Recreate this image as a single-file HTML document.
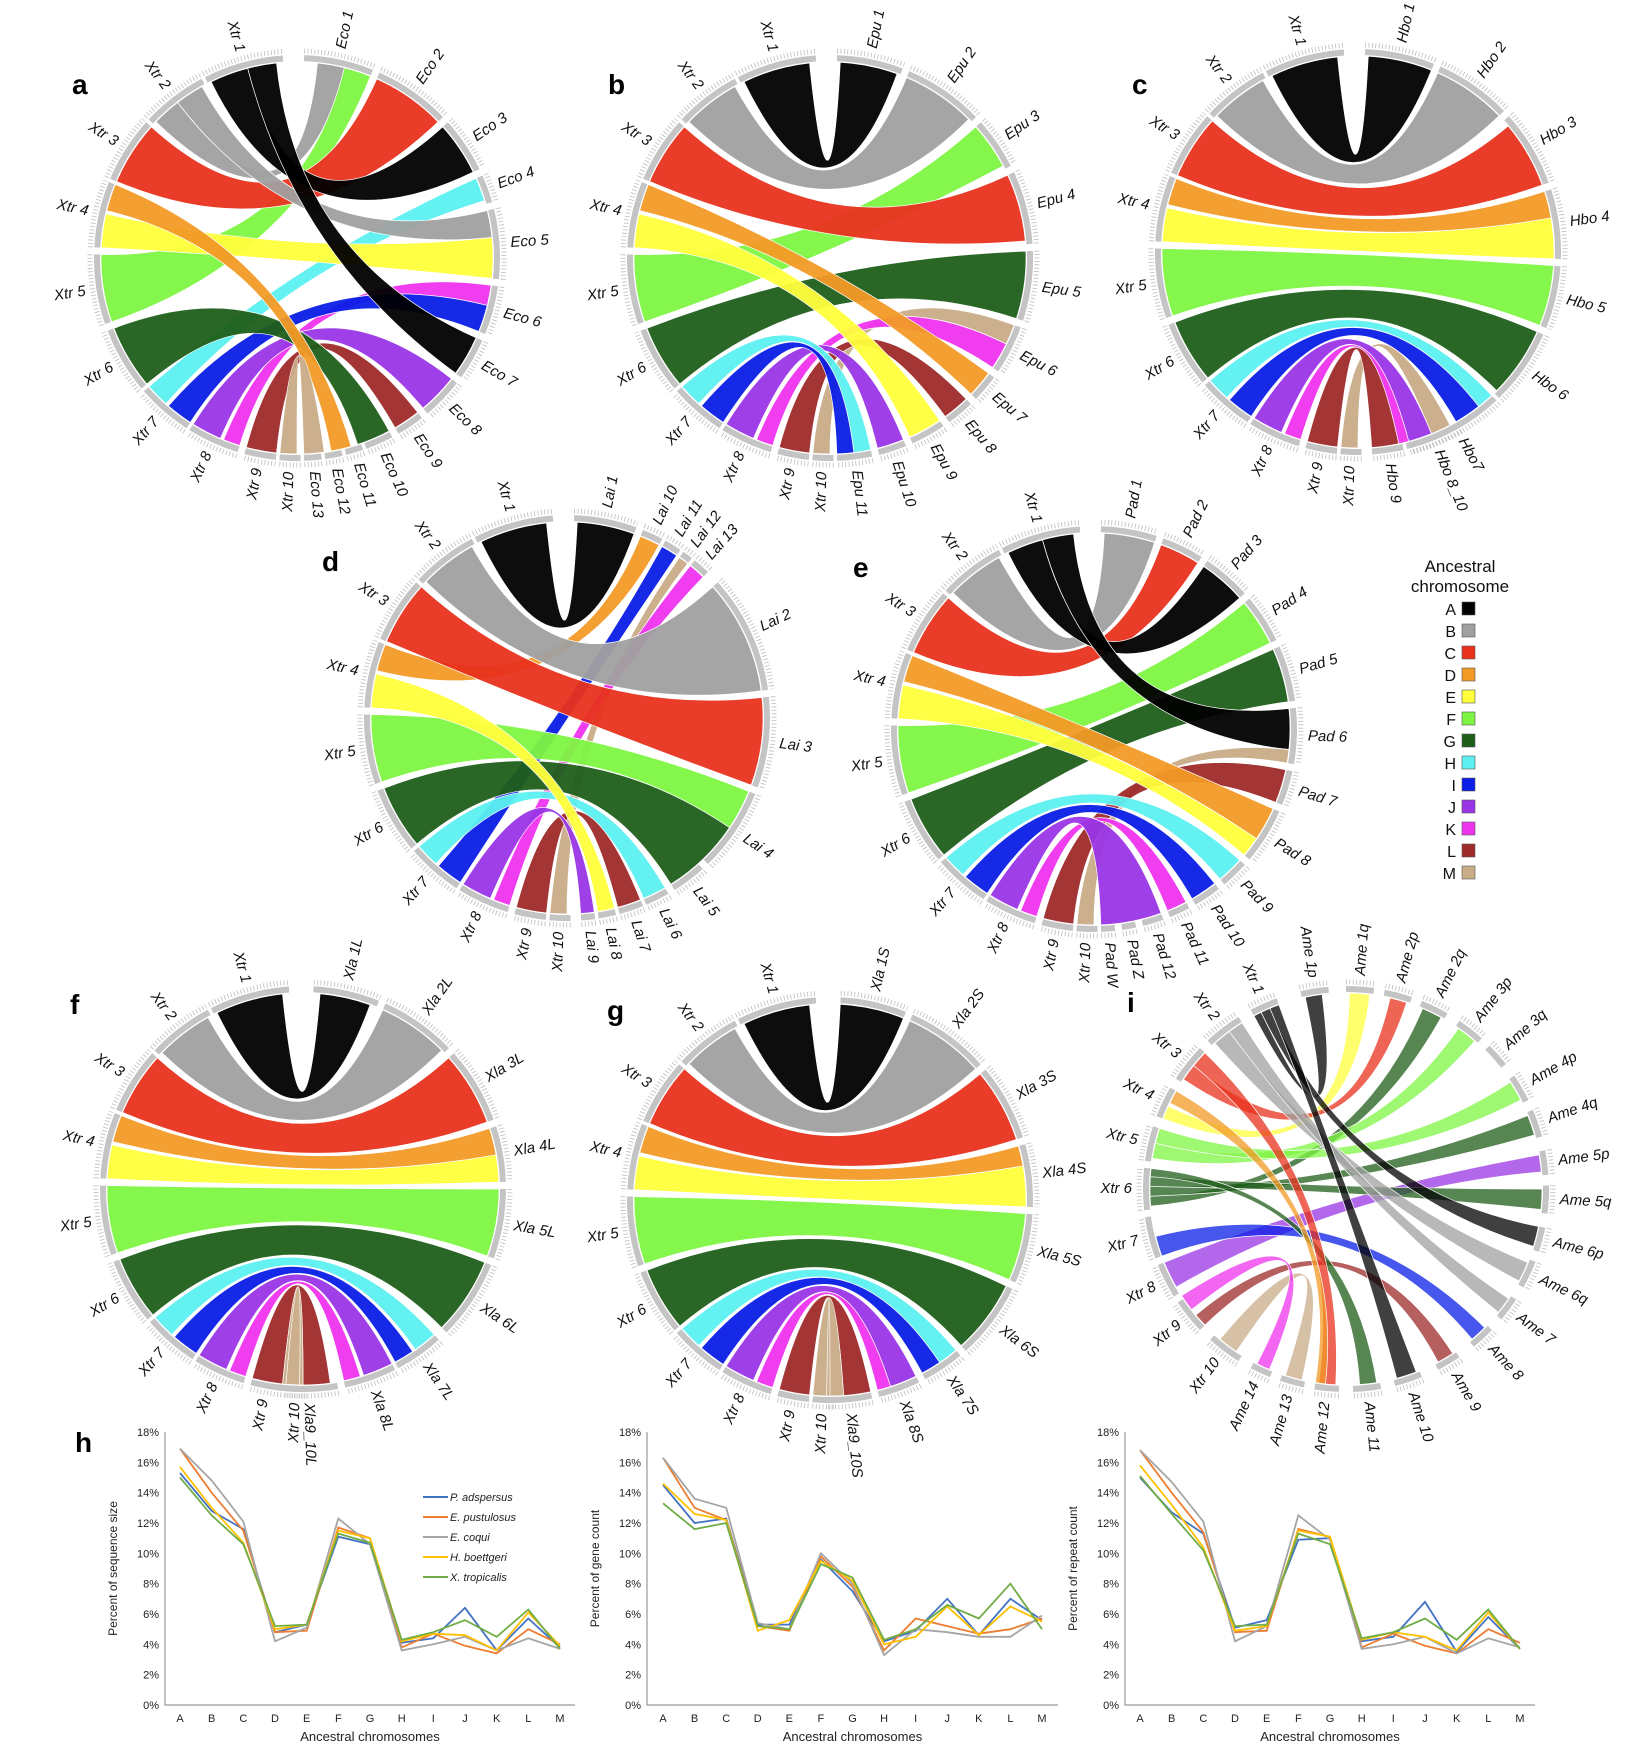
<!DOCTYPE html>
<html><head><meta charset="utf-8">
<style>
html,body{margin:0;padding:0;background:#fff;}
svg{display:block;font-family:"Liberation Sans",sans-serif;}
.lbl{font-size:15px;font-style:italic;fill:#111;}
.plet{font-size:28px;font-weight:bold;fill:#000;}
.tick{font-size:11px;fill:#222;}
</style></head>
<body>
<svg id="fig" width="1650" height="1752" viewBox="0 0 1650 1752" xmlns="http://www.w3.org/2000/svg">
<g id="circles"></g>
<g id="legend"></g>
<g id="charts"></g>
<text class="plet" x="72" y="94">a</text>
<text class="plet" x="608" y="94">b</text>
<text class="plet" x="1132" y="94">c</text>
<text class="plet" x="322" y="571">d</text>
<text class="plet" x="853" y="577">e</text>
<text class="plet" x="70" y="1014">f</text>
<text class="plet" x="607" y="1020">g</text>
<text class="plet" x="1127" y="1012">i</text>
<text class="plet" x="75" y="1452">h</text>
</svg>
<script>
const NS='http://www.w3.org/2000/svg';
const COL={A:'#000000',B:'#a0a0a0',C:'#e8321e',D:'#f29a26',E:'#ffff3c',F:'#7ef542',G:'#1f5e1a',H:'#5cf0f0',I:'#0a1ee6',J:'#9a35e6',K:'#ee33ee',L:'#9e2a2a',M:'#c9ac88'};
const legendLetters=['A','B','C','D','E','F','G','H','I','J','K','L','M'];

const xtrLabels=[['Xtr 1',333,356],['Xtr 2',313,332],['Xtr 3',293,312],['Xtr 4',273,292],['Xtr 5',251,271],['Xtr 6',230,249],['Xtr 7',213,229],['Xtr 8',197,212],['Xtr 9',186,195],['Xtr 10',179,185]];
const xtrSrc={A:[334,354],B:[314,331],C:[293,312],D:[284,292],E:[273,283],F:[251,271],G:[230,249],H:[222,229],I:[213,221],J:[203,212],K:[197,202],L:[186,195],M:[180,185]};

const labelsA=[['Eco 1',2,22],['Eco 2',24,46],['Eco 3',48,64],['Eco 4',66,74],['Eco 5',76,96],['Eco 6',98,112],['Eco 7',114,126],['Eco 8',128,140],['Eco 9',142,150],['Eco 10',152,160],['Eco 11',161,166],['Eco 12',167,172],['Eco 13',173,178]];
const targetsA=[['B',6,14],['F',14,22],['C',24,46],['A',48,64],['H',66,73],['B',76,84],['E',84,96],['K',98,104],['I',104,112],['A',114,126],['J',128,140],['L',142,150],['G',152,162],['D',164,170],['M',172,178]];
const labelsB=[['Epu 1',2,21],['Epu 2',23,46],['Epu 3',48,63],['Epu 4',65,86],['Epu 5',88,108],['Epu 6',110,124],['Epu 7',126,134],['Epu 8',136,144],['Epu 9',146,156],['Epu 10',158,166],['Epu 11',168,178]];
const targetsB=[['A',3,20],['B',23,45],['F',48,62],['C',65,85],['G',88,108],['M',110,116],['K',116,124],['D',126,134],['L',136,144],['E',146,156],['J',158,166],['H',168,173],['I',173,178]];
const labelsC=[['Hbo 1',2,22],['Hbo 2',24,46],['Hbo 3',48,70],['Hbo 4',72,92],['Hbo 5',94,112],['Hbo 6',114,136],['Hbo7',137,165],['Hbo 9',167,176],['Hbo 8_10',150,166]];
const targetsC=[['A',3,22],['B',24,46],['C',50,70],['D',72,80],['E',80,92],['F',94,112],['G',114,135],['H',137,142],['I',142,150],['M',152,158],['J',158,165],['K',165,168],['L',168,176]];
const labelsD=[['Lai 1',2,20],['Lai 10',22,28],['Lai 11',29,34],['Lai 12',35,38],['Lai 13',39,44],['Lai 2',48,82],['Lai 3',84,110],['Lai 4',112,136],['Lai 5',138,148],['Lai 6',150,157],['Lai 7',158,165],['Lai 8',166,171],['Lai 9',172,176]];
const targetsD=[['A',3,20],['D',22,28],['I',29,34],['M',35,38],['K',39,44],['B',48,82],['C',84,110],['F',112,124],['G',124,148],['H',150,157],['L',158,165],['E',166,171],['J',172,176]];
const labelsE=[['Pad 1',2,18],['Pad 2',20,32],['Pad 3',34,48],['Pad 4',50,64],['Pad 5',66,82],['Pad 6',84,100],['Pad 7',102,112],['Pad 8',114,130],['Pad 9',132,140],['Pad 10',142,150],['Pad 11',152,158],['Pad 12',160,166],['Pad Z',168,172],['Pad W',174,178]];
const targetsE=[['B',3,18],['C',20,32],['A',34,48],['F',50,64],['G',66,82],['A',84,96],['M',96,100],['L',102,112],['D',114,124],['E',124,130],['H',132,140],['I',142,150],['K',152,158],['J',160,178]];
const labelsF=[['Xla 1L',3,22],['Xla 2L',24,46],['Xla 3L',48,70],['Xla 4L',72,88],['Xla 5L',90,110],['Xla 6L',112,135],['Xla 7L',138,152],['Xla 8L',153,168],['Xla9_10L',170,187]];
const targetsF=[['A',5,20],['B',24,45],['C',48,70],['D',72,80],['E',80,88],['F',90,110],['G',112,135],['H',138,145],['I',146,152],['J',153,162],['K',163,168],['L',172,180],['M',181,186]];
const labelsG=[['Xla 1S',3,22],['Xla 2S',24,48],['Xla 3S',50,72],['Xla 4S',74,92],['Xla 5S',94,114],['Xla 6S',116,138],['Xla 7S',140,152],['Xla 8S',154,166],['Xla9_10S',168,181]];
const targetsG=[['A',3,22],['B',24,48],['C',50,72],['D',74,80],['E',80,92],['F',94,114],['G',116,138],['H',140,146],['I',146,152],['J',154,162],['K',162,166],['L',168,176],['M',176,181]];
const xtrLabelsI=[['Xtr 1',332,340],['Xtr 2',317,328],['Xtr 3',303,314],['Xtr 4',291,300],['Xtr 5',278,288],['Xtr 6',264,276],['Xtr 7',250,262],['Xtr 8',238,248],['Xtr 9',226,236],['Xtr 10',212,222]];
const xtrSrcI={A:[332,340],B:[318,328],C:[304,314],D:[296,300],E:[291,295],F:[279,288],G:[265,276],H:[257,262],I:[250,256],J:[240,248],K:[232,237],L:[226,230],M:[214,220]};
const labelsI=[['Ame 1p',347,355],['Ame 1q',0,8],['Ame 2p',11,19],['Ame 2q',22,30],['Ame 3p',34,42],['Ame 3q',45,52],['Ame 4p',56,64],['Ame 4q',67,75],['Ame 5p',79,86],['Ame 5q',89,97],['Ame 6p',101,108],['Ame 6q',111,119],['Ame 7',123,130],['Ame 8',134,141],['Ame 9',146,153],['Ame 10',158,166],['Ame 11',170,178],['Ame 12',182,189],['Ame 13',192,199],['Ame 14',202,208]];
const targetsI=[['A',348,353],['E',1,7],['C',13,18],['G',23,29],['F',35,41],['F',57,63],['G',68,74],['J',80,85],['G',90,96],['A',101,107],['B',112,118],['B',124,129],['I',135,140],['L',147,152],['A',159,165],['G',171,176],['C',183,188],['D',186,189],['M',193,198],['K',203,207]];

const panels=[
 {id:'a',cx:297,cy:258,r:196,labels:labelsA,targets:targetsA,xl:xtrLabels,xs:xtrSrc,op:0.95},
 {id:'b',cx:830,cy:258,r:196,labels:labelsB,targets:targetsB,xl:xtrLabels,xs:xtrSrc,op:0.95},
 {id:'c',cx:1358,cy:252,r:196,labels:labelsC,targets:targetsC,xl:xtrLabels,xs:xtrSrc,op:0.95},
 {id:'d',cx:567,cy:718,r:196,labels:labelsD,targets:targetsD,xl:xtrLabels,xs:xtrSrc,op:0.95},
 {id:'e',cx:1094,cy:729,r:196,labels:labelsE,targets:targetsE,xl:xtrLabels,xs:xtrSrc,op:0.95},
 {id:'f',cx:303,cy:1189,r:196,labels:labelsF,targets:targetsF,xl:xtrLabels,xs:xtrSrc,op:0.95},
 {id:'g',cx:830,cy:1200,r:196,labels:labelsG,targets:targetsG,xl:xtrLabels,xs:xtrSrc,op:0.95},
 {id:'i',cx:1346,cy:1189,r:196,labels:labelsI,targets:targetsI,xl:xtrLabelsI,xs:xtrSrcI,op:0.75}
];

function mk(tag,attrs,parent){const e=document.createElementNS(NS,tag);for(const k in attrs)e.setAttribute(k,attrs[k]);if(parent)parent.appendChild(e);return e;}
function pt(cx,cy,r,a){const t=a*Math.PI/180;return [cx+r*Math.sin(t),cy-r*Math.cos(t)];}
function arcPath(cx,cy,r,a1,a2){const p1=pt(cx,cy,r,a1),p2=pt(cx,cy,r,a2);let d=((a2-a1)%360+360)%360;return `M${p1[0].toFixed(1)},${p1[1].toFixed(1)} A${r},${r} 0 ${d>180?1:0} 1 ${p2[0].toFixed(1)},${p2[1].toFixed(1)}`;}

const root=document.getElementById('circles');
panels.forEach(P=>{
  const g=mk('g',{},root);
  
  
  const {cx,cy,r}=P;
  const tot={};
  P.targets.forEach(t=>{tot[t[0]]=(tot[t[0]]||0)+(t[2]-t[1]);});
  const used={};
  P.targets.forEach(t=>{
    const c=t[0],src=P.xs[c];const w=src[1]-src[0];
    const u=used[c]||0;const frac=(t[2]-t[1])/tot[c];
    const s1=src[0]+u*w,s2=src[0]+(u+frac)*w;used[c]=u+frac;
    const a=pt(cx,cy,r,s1),b=pt(cx,cy,r,s2),c1=pt(cx,cy,r,t[1]),d=pt(cx,cy,r,t[2]);
    const path=`M${a[0]},${a[1]} A${r},${r} 0 0 1 ${b[0]},${b[1]} Q${cx},${cy} ${c1[0]},${c1[1]} A${r},${r} 0 0 1 ${d[0]},${d[1]} Q${cx},${cy} ${a[0]},${a[1]} Z`;
    const e=mk('path',{d:path,fill:COL[c],'fill-opacity':P.op,stroke:'#fff','stroke-width':0.7},g);
    
    
  });
  const all=P.xl.concat(P.labels);
  all.forEach(L=>{
    const seg=mk('path',{d:arcPath(cx,cy,r+4,L[1],L[2]),fill:'none',stroke:'#c4c4c4','stroke-width':6},g);
    
    
    const tk=mk('path',{d:arcPath(cx,cy,r+11,L[1],L[2]),fill:'none',stroke:'#bdbdbd','stroke-width':5,'stroke-dasharray':'0.8 2.6'},g);
    
    
    let m=(L[1]+L[2])/2;if(L[2]<L[1])m=(L[1]+L[2]+360)/2;m=(m%360+360)%360;
    const p=pt(cx,cy,r+18,m);
    const right=m>0.5&&m<180;
    const rot=right?m-90:m+90;
    const tx=mk('text',{class:'lbl',x:0,y:0,'text-anchor':right?'start':'end','dominant-baseline':'middle',transform:`translate(${p[0].toFixed(1)},${p[1].toFixed(1)}) rotate(${rot.toFixed(1)})`},g);
    tx.textContent=L[0];
    
    
  });
});

const lg=document.getElementById('legend');
const lt1=mk('text',{x:1460,y:572,'text-anchor':'middle','font-size':17,fill:'#111'},lg);lt1.textContent='Ancestral';

const lt2=mk('text',{x:1460,y:592,'text-anchor':'middle','font-size':17,fill:'#111'},lg);lt2.textContent='chromosome';

legendLetters.forEach((c,i)=>{
  const y=609+i*22;
  const t=mk('text',{x:1456,y:y+6,'text-anchor':'end','font-size':16,fill:'#111'},lg);t.textContent=c;
  
  const b=mk('rect',{x:1462,y:y-7,width:13,height:13,fill:COL[c],stroke:'#555','stroke-width':0.6},lg);
  
});

const categories=['A','B','C','D','E','F','G','H','I','J','K','L','M'];
const seriesNames=['P. adspersus','E. pustulosus','E. coqui','H. boettgeri','X. tropicalis'];
const seriesColors=['#4472c4','#ed7d31','#a5a5a5','#ffc000','#70ad47'];
const yTicks=[0,2,4,6,8,10,12,14,16,18];
const seqPad=[15.3,12.8,11.6,4.8,5.3,11.1,10.6,4.1,4.4,6.4,3.6,5.7,3.8];
const seqEpu=[16.9,14.0,11.5,4.8,4.9,11.7,11.0,3.8,4.7,3.9,3.4,5.0,4.0];
const seqEco=[16.9,14.8,12.1,4.2,5.1,12.3,10.6,3.6,4.0,4.5,3.6,4.4,3.7];
const seqHbo=[15.7,13.0,10.7,5.0,5.3,11.5,11.0,4.2,4.7,4.6,3.6,6.1,3.9];
const seqXtr=[15.0,12.5,10.6,5.2,5.3,11.3,10.7,4.3,4.8,5.6,4.5,6.3,3.7];
const genePad=[14.5,12.0,12.3,5.3,5.3,9.6,7.5,4.2,4.9,7.0,4.6,7.0,5.6];
const geneEpu=[16.3,13.0,12.2,5.2,4.9,9.8,7.8,3.6,5.7,5.2,4.7,5.0,5.7];
const geneEco=[16.3,13.6,13.0,5.4,5.0,10.0,8.0,3.3,5.0,4.8,4.5,4.5,5.9];
const geneHbo=[14.6,12.6,12.2,4.9,5.6,9.5,8.2,4.0,4.5,6.5,4.6,6.5,5.5];
const geneXtr=[13.3,11.6,12.0,5.2,5.0,9.3,8.4,4.3,5.0,6.6,5.7,8.0,5.0];
const repPad=[15.0,12.7,11.3,5.1,5.6,10.9,11.0,4.2,4.5,6.8,3.5,5.8,3.7];
const repEpu=[16.8,14.0,11.4,4.8,4.9,11.6,11.1,3.8,4.7,3.9,3.4,5.0,4.1];
const repEco=[16.8,14.7,12.1,4.2,5.2,12.5,10.9,3.7,4.0,4.5,3.4,4.4,3.8];
const repHbo=[15.8,13.2,10.4,4.9,5.2,11.5,11.1,4.3,4.8,4.5,3.6,6.1,3.7];
const repXtr=[15.1,12.6,10.2,5.2,5.3,11.3,10.6,4.4,4.8,5.7,4.3,6.3,3.7];

const chartDefs=[
 {ax:165,x0:180,x1:560,right:575,title:'Percent of sequence size',series:[seqPad,seqEpu,seqEco,seqHbo,seqXtr],legend:true,name:'sequence-size'},
 {ax:647,x0:663,x1:1042,right:1058,title:'Percent of gene count',series:[genePad,geneEpu,geneEco,geneHbo,geneXtr],legend:false,name:'gene-count'},
 {ax:1125,x0:1140,x1:1520,right:1535,title:'Percent of repeat count',series:[repPad,repEpu,repEco,repHbo,repXtr],legend:false,name:'repeat-count'}
];
const yTop=1432,yBot=1705;
const ch=document.getElementById('charts');
chartDefs.forEach(C=>{
  const g=mk('g',{},ch);
  
  
  const yS=v=>yBot-(v/18)*(yBot-yTop);
  const xS=i=>C.x0+i*(C.x1-C.x0)/(categories.length-1);
  const ax=mk('path',{d:`M${C.ax},${yTop} V${yBot} H${C.right}`,fill:'none',stroke:'#999','stroke-width':1.2},g);
  
  yTicks.forEach(v=>{
    const t=mk('text',{class:'tick',x:C.ax-6,y:yS(v)+4,'text-anchor':'end'},g);t.textContent=v+'%';
    
  });
  categories.forEach((c,i)=>{
    const t=mk('text',{class:'tick',x:xS(i),y:1722,'text-anchor':'middle'},g);t.textContent=c;
    
  });
  const xt=mk('text',{x:(C.ax+C.right)/2,y:1741,'text-anchor':'middle','font-size':13,fill:'#222'},g);xt.textContent='Ancestral chromosomes';
  
  const ym=(yTop+yBot)/2;
  const yt=mk('text',{x:C.ax-48,y:ym,'text-anchor':'middle','font-size':12,fill:'#222',transform:`rotate(-90 ${C.ax-48} ${ym})`},g);yt.textContent=C.title;
  
  C.series.forEach((s,k)=>{
    const d=s.map((v,i)=>(i?'L':'M')+xS(i).toFixed(1)+','+yS(v).toFixed(1)).join(' ');
    const p=mk('path',{d:d,fill:'none',stroke:seriesColors[k],'stroke-width':1.8},g);
    
  });
  if(C.legend){
    seriesNames.forEach((n,k)=>{
      const y=1497+k*20;
      const l=mk('line',{x1:423,y1:y,x2:448,y2:y,stroke:seriesColors[k],'stroke-width':2},g);
      
      const t=mk('text',{x:450,y:y+4,'font-size':11,'font-style':'italic',fill:'#222'},g);t.textContent=n;
      
    });
  }
});
</script>
</body></html>
